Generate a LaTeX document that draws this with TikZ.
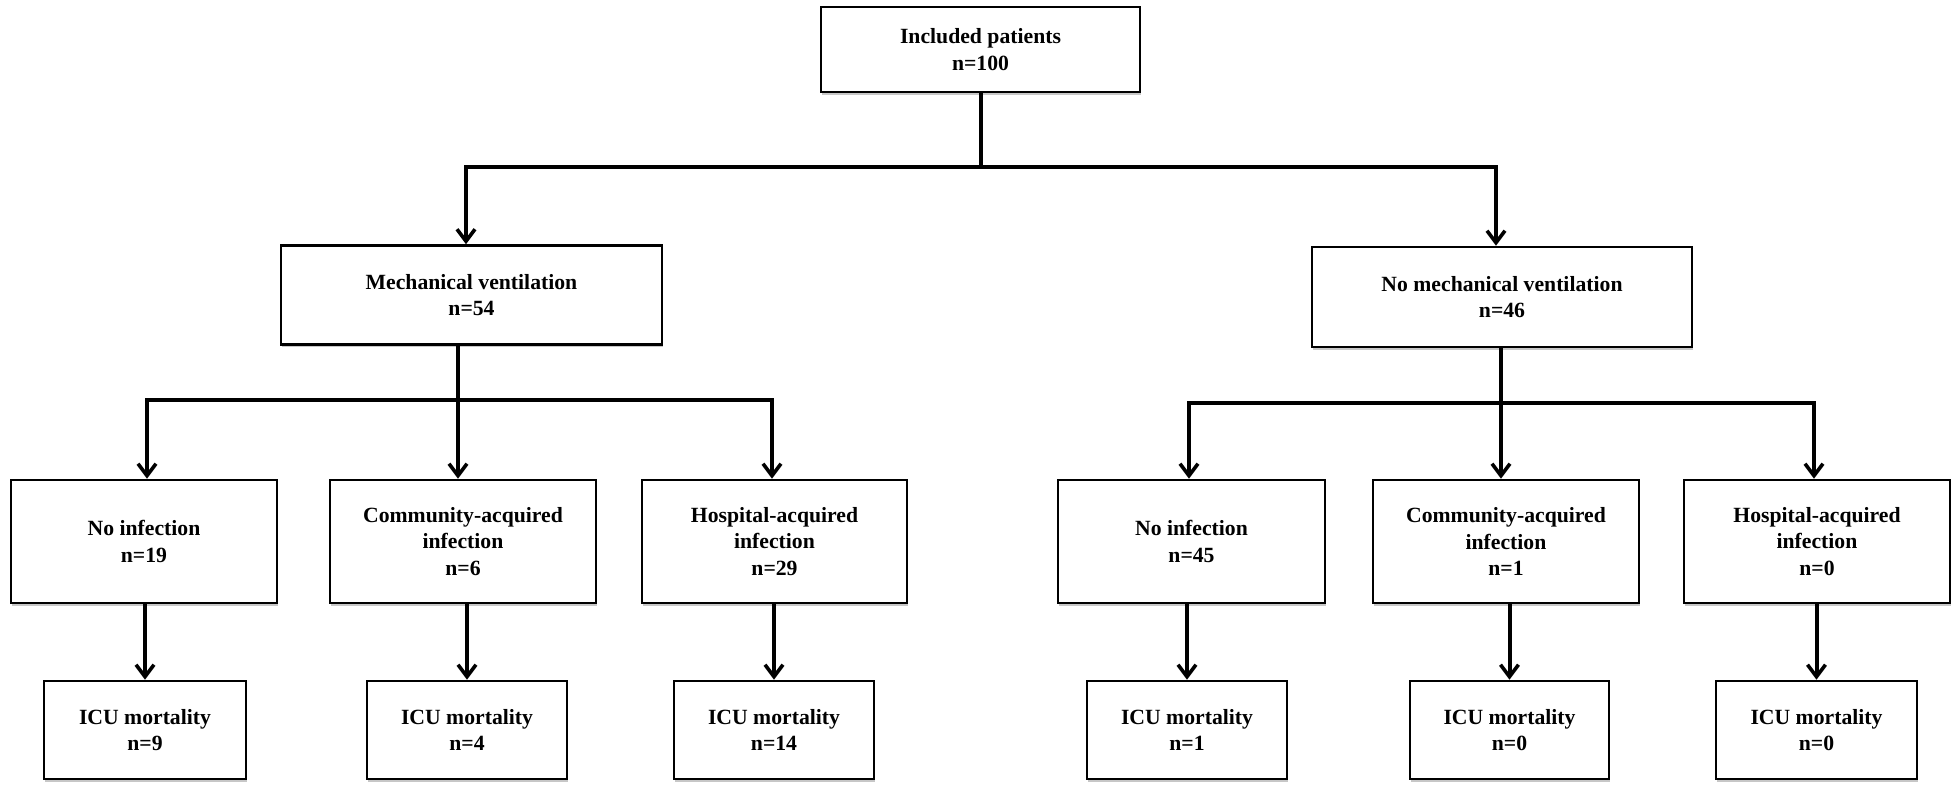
\documentclass[tikz,border=0pt]{standalone}
\usepackage{fontspec}
\setmainfont{Liberation Serif}
\usetikzlibrary{arrows.meta,shadows}
\begin{document}
\begin{tikzpicture}[x=0.5pt,y=-0.5pt,
  box/.style={draw=black, line width=1.3pt, fill=white, align=center,
    font=\bfseries\fontsize{10.85}{13.2}\selectfont, inner sep=0pt,
    drop shadow={shadow xshift=0.6pt, shadow yshift=-1.3pt, fill=black, opacity=0.22}},
  conn/.style={line width=2pt, line join=miter},
  arr/.style={conn, -{Straight Barb[length=6pt,width=9pt,line width=1.8pt]}}
]
\useasboundingbox (0,0) rectangle (1960,794);

% nodes
\node[box, minimum width=159.5pt, minimum height=42.5pt] (top) at (980.5,49.5) {Included patients\\n=100};
\node[box, minimum width=190.5pt, minimum height=49.5pt] (mech) at (471.5,295) {Mechanical ventilation\\n=54};
\node[box, minimum width=190pt, minimum height=50pt] (nomech) at (1502,297) {No mechanical ventilation\\n=46};

\node[box, minimum width=133pt, minimum height=61.5pt] (nl) at (144,541.5) {No infection\\n=19};
\node[box, minimum width=133pt, minimum height=61.5pt] (cl) at (463,541.5) {Community-acquired\\infection\\n=6};
\node[box, minimum width=132.5pt, minimum height=61.5pt] (hl) at (774.5,541.5) {Hospital-acquired\\infection\\n=29};
\node[box, minimum width=133.5pt, minimum height=61.5pt] (nr) at (1191.5,541.5) {No infection\\n=45};
\node[box, minimum width=133pt, minimum height=61.5pt] (cr) at (1506,541.5) {Community-acquired\\infection\\n=1};
\node[box, minimum width=133pt, minimum height=61.5pt] (hr) at (1817,541.5) {Hospital-acquired\\infection\\n=0};

\node[box, minimum width=101pt, minimum height=49pt] (i1) at (145,730) {ICU mortality\\n=9};
\node[box, minimum width=100pt, minimum height=49pt] (i2) at (467,730) {ICU mortality\\n=4};
\node[box, minimum width=100pt, minimum height=49pt] (i3) at (774,730) {ICU mortality\\n=14};
\node[box, minimum width=100pt, minimum height=49pt] (i4) at (1187,730) {ICU mortality\\n=1};
\node[box, minimum width=99.5pt, minimum height=49pt] (i5) at (1509.5,730) {ICU mortality\\n=0};
\node[box, minimum width=100.5pt, minimum height=49pt] (i6) at (1816.5,730) {ICU mortality\\n=0};

% junctions
\coordinate (jL) at (466,167);
\coordinate (jR) at (1496,167);
\coordinate (m0) at (458,400);
\coordinate (mL) at (147,400);
\coordinate (mR) at (772,400);
\coordinate (n0) at (1501,403);
\coordinate (nL) at (1189,403);
\coordinate (nR) at (1814,403);

% level 1
\draw[arr] (top.south) |- (jL) -- (jL |- mech.north);
\draw[arr] (top.south) |- (jR) -- (jR |- nomech.north);

% level 2 left
\draw[arr] (mech.south -| m0) |- (mL) -- (mL |- nl.north);
\draw[arr] (m0) -| (hl.north -| mR);
\draw[arr] (m0) -- (m0 |- cl.north);

% level 2 right
\draw[arr] (nomech.south -| n0) |- (nL) -- (nL |- nr.north);
\draw[arr] (n0) -| (hr.north -| nR);
\draw[arr] (n0) -- (n0 |- cr.north);

% level 3
\draw[arr] (nl.south -| i1.north) -- (i1.north);
\draw[arr] (cl.south -| i2.north) -- (i2.north);
\draw[arr] (hl.south -| i3.north) -- (i3.north);
\draw[arr] (nr.south -| i4.north) -- (i4.north);
\draw[arr] (cr.south -| i5.north) -- (i5.north);
\draw[arr] (hr.south -| i6.north) -- (i6.north);
\end{tikzpicture}
\end{document}
